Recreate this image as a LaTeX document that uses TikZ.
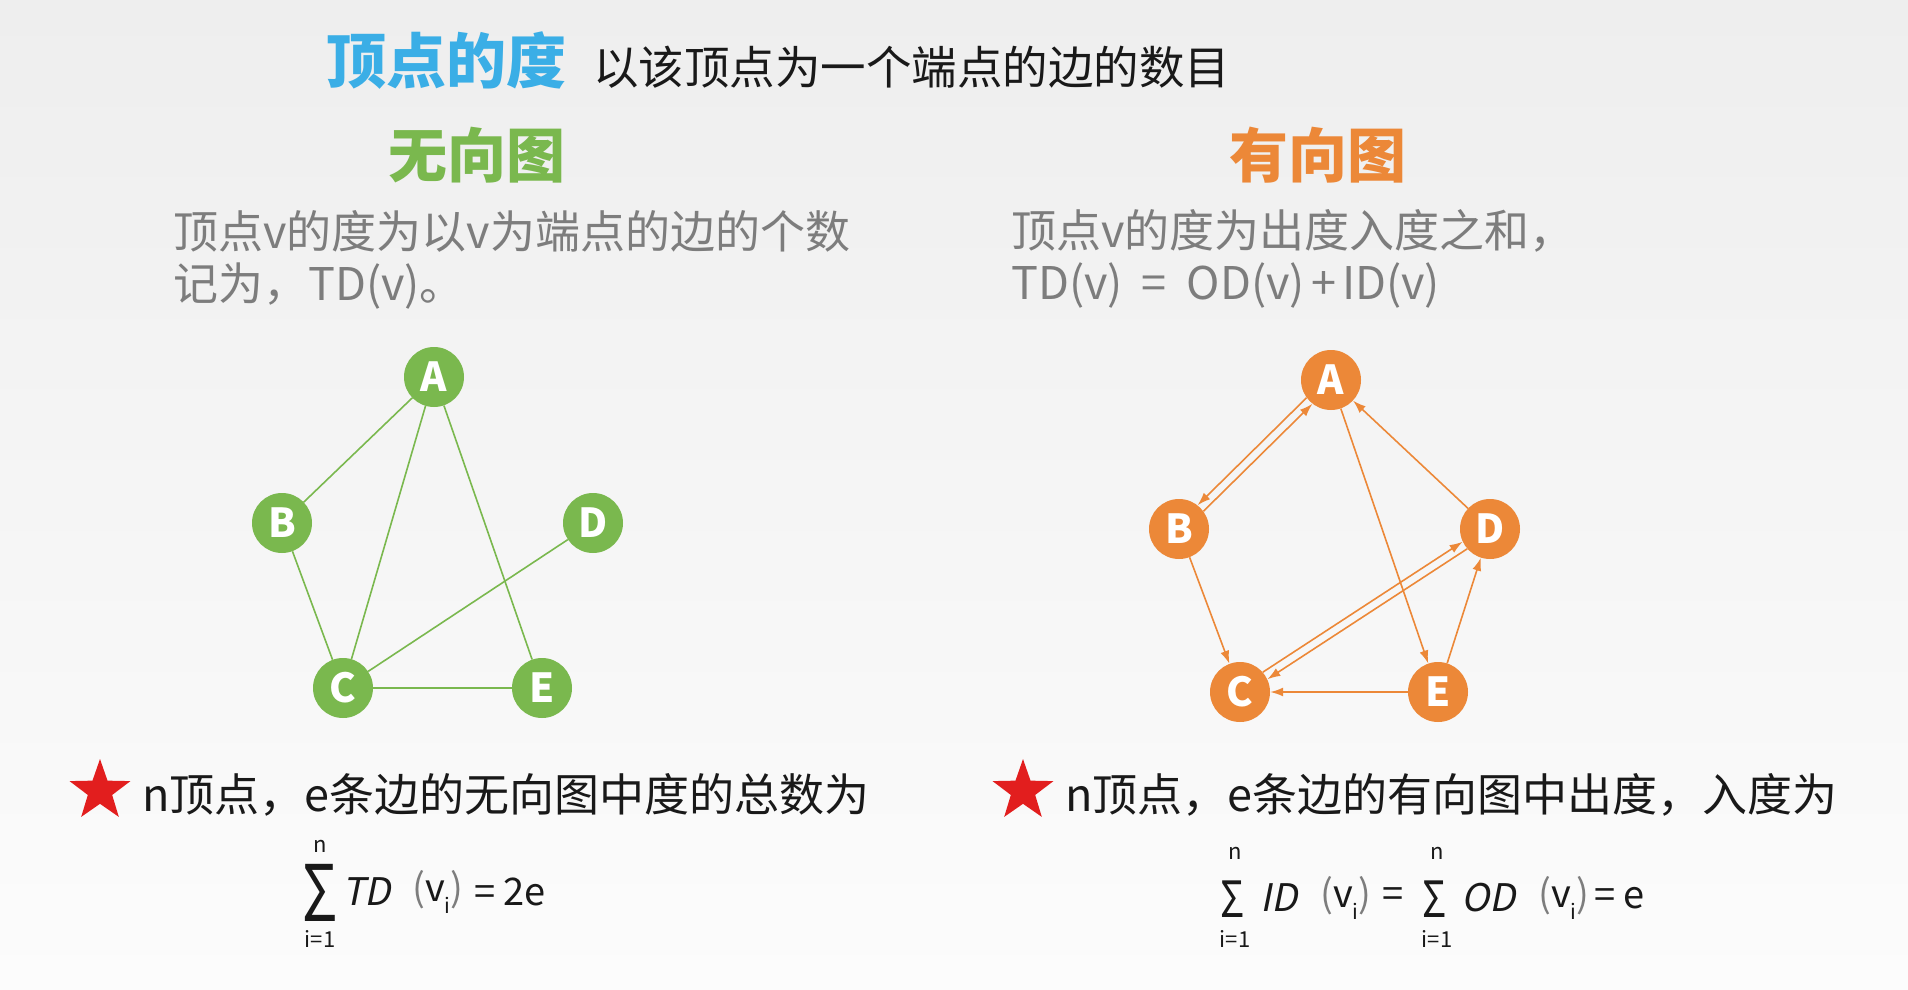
\documentclass[tikz,border=0pt]{standalone}
\usepackage{fontspec}
\setmainfont{Noto Sans CJK SC}
\newfontfamily\itf{Noto Sans CJK SC}[FakeSlant=0.2]
\usetikzlibrary{arrows.meta,shapes.geometric}
\definecolor{tblue}{RGB}{58,174,230}
\definecolor{ggreen}{RGB}{122,184,78}
\definecolor{oorange}{RGB}{236,136,56}
\definecolor{tgray}{RGB}{125,125,125}
\definecolor{tblack}{RGB}{25,25,25}
\definecolor{sred}{RGB}{226,30,30}
\definecolor{bgtop}{RGB}{238,238,238}
\definecolor{bgbot}{RGB}{252,252,252}
\newcommand\myfs[1]{\fontsize{#1}{#1}\selectfont}
\newcommand\vsub{v\raisebox{-0.32em}{\myfs{21}i}}
\begin{document}
\begin{tikzpicture}[x=1pt,y=-1pt,
  txt/.style={inner sep=0pt, anchor=west},
  gnode/.style={circle, fill=ggreen, minimum size=60pt, inner sep=0pt, text=white, font=\myfs{40}\bfseries},
  onode/.style={circle, fill=oorange, minimum size=60pt, inner sep=0pt, text=white, font=\myfs{40}\bfseries},
  gedge/.style={draw=ggreen, line width=1.6pt},
  oarr/.style={draw=oorange, line width=1.6pt, -{Latex[length=13pt,width=9pt]}},
  redstar/.style={star, star points=5, star point ratio=2.5, fill=sred, minimum size=64pt, inner sep=0pt},
  fm/.style={inner sep=0pt, text=tblack},
  lim/.style={inner sep=0pt, text=tblack, font=\myfs{22}}]
\useasboundingbox (0,0) rectangle (1908,990);
\shade[top color=bgtop, bottom color=bgbot] (0,0) rectangle (1908,990);

% titles
\node[txt, text=tblue, font=\myfs{60}\bfseries] (title) at (326,61) {顶点的度};
\node[txt, text=tblack, font=\myfs{45.5}] (subtitle) at (593,67) {以该顶点为一个端点的边的数目};
\node[inner sep=0pt, text=ggreen, font=\myfs{59}\bfseries] (ut) at (477,155) {无向图};
\node[inner sep=0pt, text=oorange, font=\myfs{59}\bfseries] (dt) at (1318,155) {有向图};

\node[txt, text=tgray, font=\myfs{45}] (ul1) at (173,231) {顶点v的度为以v为端点的边的个数};
\node[txt, text=tgray, font=\myfs{45}] (ul2) at (173,286) {记为，TD(v)。};
\node[txt, text=tgray, font=\myfs{45}] (dl1) at (1011,231) {顶点v的度为出度入度之和，};
\node[txt, text=tgray, font=\myfs{45}] (dl2) at (1011,286) {TD(v)\hspace{19pt}=\hspace{20pt}OD(v)\hspace{6pt}+\hspace{6pt}ID(v)};

% undirected graph
\node[gnode] (gA) at (434,377) {A};
\node[gnode] (gB) at (282,523) {B};
\node[gnode] (gD) at (593,523) {D};
\node[gnode] (gC) at (343,688) {C};
\node[gnode] (gE) at (542,688) {E};
\draw[gedge] (gA) -- (gB);
\draw[gedge] (gA) -- (gC);
\draw[gedge] (gA) -- (gE);
\draw[gedge] (gB) -- (gC);
\draw[gedge] (gC) -- (gD);
\draw[gedge] (gC) -- (gE);

% directed graph
\node[onode] (oA) at (1331,380) {A};
\node[onode] (oB) at (1179,529) {B};
\node[onode] (oD) at (1490,529) {D};
\node[onode] (oC) at (1240,692) {C};
\node[onode] (oE) at (1438,692) {E};
\draw[oarr] (oA.216) -- (oB.52);
\draw[oarr] (oB.36) -- (oA.232);
\draw[oarr] (oA) -- (oE);
\draw[oarr] (oD) -- (oA);
\draw[oarr] (oB) -- (oC);
\draw[oarr] (oC.41) -- (oD.205);
\draw[oarr] (oD.221) -- (oC.25);
\draw[oarr] (oE) -- (oC);
\draw[oarr] (oE) -- (oD);

% bottom statements
\node[redstar] (st1) at (100,791) {};
\node[txt, text=tblack, font=\myfs{45}] (ub) at (142,795) {n顶点，e条边的无向图中度的总数为};
\node[redstar] (st2) at (1023,791) {};
\node[txt, text=tblack, font=\myfs{45}] (db) at (1065,795) {n顶点，e条边的有向图中出度，入度为};

% left formula
\node[fm] (us) at (320,893) {\scalebox{0.75}[1]{\myfs{78}Σ}};
\node[lim] (un) at (320,846) {n};
\node[lim] (ui) at (320,939) {i=1};
\node[fm, anchor=west, font=\myfs{38}\itf] (utd) at (342,892) {TD};
\node[fm, anchor=west, font=\myfs{38}] (uv) at (412,892) {\textcolor{tgray}{(}\vsub\textcolor{tgray}{)}};
\node[fm, anchor=west, font=\myfs{38}] (ue) at (474,892) {= 2e};

% right formula
\node[fm] (ds1) at (1233,899) {\scalebox{0.8}[1]{\myfs{50}Σ}};
\node[lim] (dn1) at (1235,853) {n};
\node[lim] (di1) at (1235,939) {i=1};
\node[fm, anchor=west, font=\myfs{38}\itf] (did) at (1260,898) {ID};
\node[fm, anchor=west, font=\myfs{38}] (dv1) at (1320,898) {\textcolor{tgray}{(}\vsub\textcolor{tgray}{)}};
\node[fm, font=\myfs{38}] (deq) at (1393,898) {=};
\node[fm] (ds2) at (1435,899) {\scalebox{0.8}[1]{\myfs{50}Σ}};
\node[lim] (dn2) at (1437,853) {n};
\node[lim] (di2) at (1437,939) {i=1};
\node[fm, anchor=west, font=\myfs{38}\itf] (dod) at (1461,898) {OD};
\node[fm, anchor=west, font=\myfs{38}] (dv2) at (1538,898) {\textcolor{tgray}{(}\vsub\textcolor{tgray}{)}};
\node[fm, anchor=west, font=\myfs{38}] (de) at (1594,898) {= e};
\end{tikzpicture}
\end{document}
